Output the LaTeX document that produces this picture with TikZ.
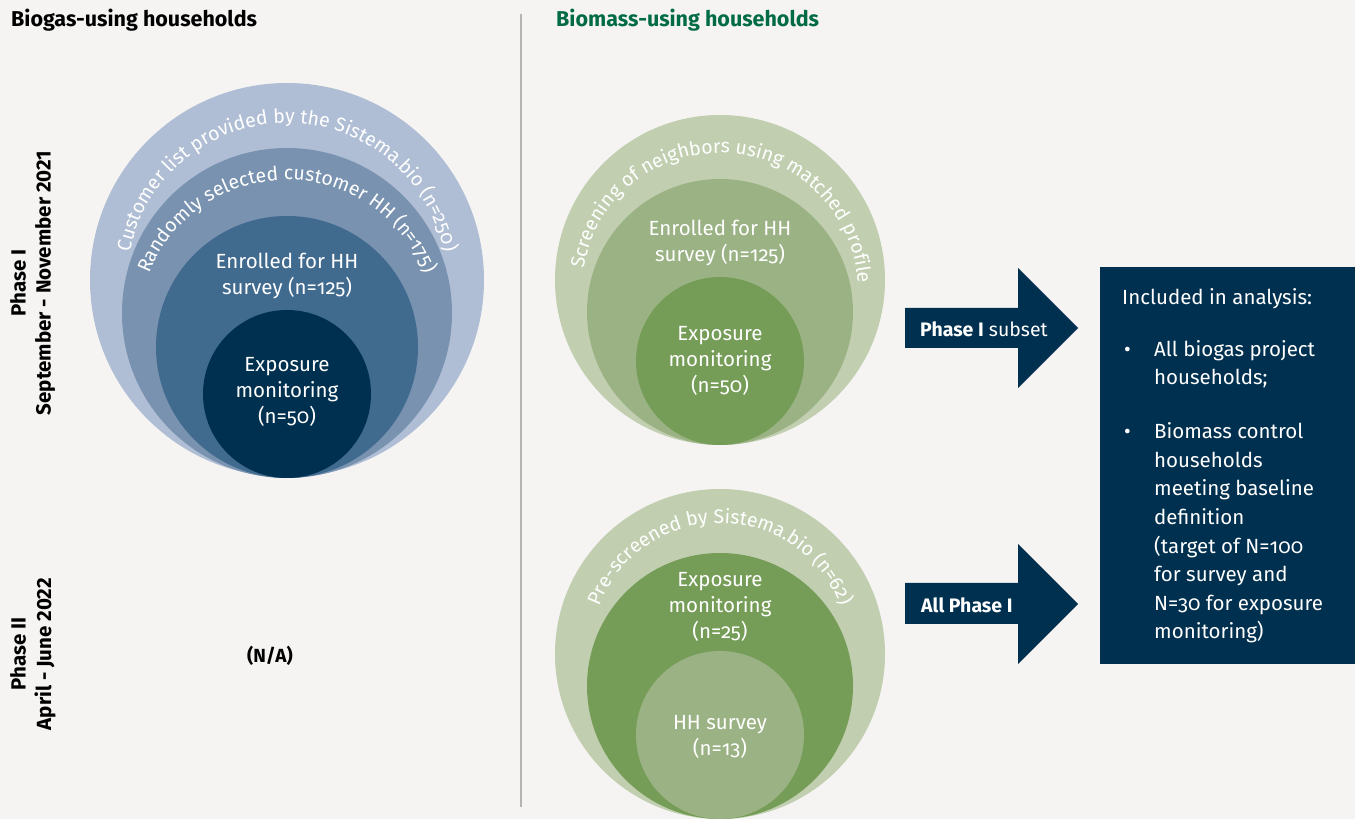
\documentclass[tikz,border=0pt]{standalone}
\usepackage{fontspec}
\setmainfont{Fira Sans}[Numbers=OldStyle]
\usetikzlibrary{decorations.text}

\definecolor{bgcol}{HTML}{F5F4F2}
\definecolor{navy}{HTML}{00304F}
\definecolor{bluea}{HTML}{AFBED4}
\definecolor{blueb}{HTML}{7892B0}
\definecolor{bluec}{HTML}{416A8F}
\definecolor{greena}{HTML}{C1CFB0}
\definecolor{greenb}{HTML}{9BB384}
\definecolor{greenc}{HTML}{769D58}
\definecolor{headgreen}{HTML}{006B45}
\definecolor{sepgray}{HTML}{B4B4B4}

\newcommand\bodyfont{\fontsize{20.5}{26}\selectfont}
\newcommand\boxfont{\fontsize{20.5}{28.6}\selectfont}
\newcommand\ringfont{\fontsize{19.5}{19.5}\selectfont\color{white}}
\newcommand\headfont{\fontsize{21.5}{24}\selectfont\bfseries}

\tikzset{
  incircle/.style={text=white, align=center, font=\bodyfont, inner sep=0pt},
  ringtext/.style={decorate, decoration={text along path, text align=center, text color=white}},
  sidelabel/.style={rotate=90, font=\fontsize{20.5}{24}\selectfont\bfseries\addfontfeature{Numbers=Lining}},
  arrowlabel/.style={text=white, font=\fontsize{19.5}{24}\selectfont, anchor=west, inner sep=0pt},
  boxtext/.style={text=white, font=\boxfont, anchor=base west, align=left, inner sep=0pt},
}

\begin{document}
\begin{tikzpicture}[x=1pt,y=1pt]
\def\bgouter{(287,539) circle (197)}
\def\bgrandom{(287,506) circle (165)}
\def\bgenrol{(287,472) circle (131)}
\def\bgexpo{(287,425) circle (84)}
\def\bmscreen{(720,539) circle (165)}
\def\bmenrol{(720,507) circle (133)}
\def\bmexpo{(720,458) circle (84)}
\def\bmpre{(720,165) circle (165)}
\def\bmexpotwo{(720,133) circle (133)}
\def\bmsurvey{(720,84) circle (84)}
\useasboundingbox (0,0) rectangle (1355,819);
\fill[bgcol] (0,0) rectangle (1355,819);

% headers and separator
\node[anchor=base west, font=\headfont, inner sep=0pt] (bghead) at (11,792) {Biogas-using households};
\node[anchor=base west, font=\headfont, text=headgreen, inner sep=0pt] (bmhead) at (556,792) {Biomass-using households};
\draw[sepgray, line width=1.5pt] (521,805) -- (521,12);

% phase labels
\node[sidelabel] (phaseone) at (18,536) {Phase I};
\node[sidelabel] (phaseonedate) at (45,536) {September - November 2021};
\node[sidelabel] (phasetwo) at (18,165) {Phase II};
\node[sidelabel] (phasetwodate) at (45,165) {April - June 2022};

% biogas households
\fill[bluea] \bgouter;
\fill[blueb] \bgrandom;
\fill[bluec] \bgenrol;
\fill[navy] \bgexpo;
\path[ringtext, decoration={text={|\ringfont|Customer list provided by the Sistema.bio (n=250)}}]
  (287,536) ++(170:160) arc (170:10:160);
\path[ringtext, decoration={text={|\ringfont|Randomly selected customer HH (n=175)}}]
  (287,491) ++(163:148) arc (163:17:148);
\node[incircle] (bgenroltext) at (287,543) {Enrolled for HH\\survey (n=125)};
\node[incircle] (bgexpotext) at (287,427) {Exposure\\monitoring\\(n=50)};
\node[font=\fontsize{19}{24}\selectfont\bfseries] (na) at (270,163) {(N/A)};

% biomass households, phase I
\fill[greena] \bmscreen;
\fill[greenb] \bmenrol;
\fill[greenc] \bmexpo;
\path[ringtext, decoration={text={|\ringfont|Screening of neighbors using matched profile}}]
  (720,528) ++(172:138) arc (172:2:138);
\node[incircle] (bmenroltext) at (720,576) {Enrolled for HH\\survey (n=125)};
\node[incircle] (bmexpotext) at (720,458) {Exposure\\monitoring\\(n=50)};

% biomass households, phase II
\fill[greena] \bmpre;
\fill[greenc] \bmexpotwo;
\fill[greenb] \bmsurvey;
\path[ringtext, decoration={text={|\ringfont|Pre-screened by Sistema.bio (n=62)}}]
  (720,167) ++(163:129) arc (163:17:129);
\node[incircle] (bmexpotwotext) at (720,212) {Exposure\\monitoring\\(n=25)};
\node[incircle] (bmsurveytext) at (720,82) {HH survey\\(n=13)};

% arrows
\fill[navy] (905,511) -- (1018,511) -- (1018,551) -- (1078,491) -- (1018,431) -- (1018,471) -- (905,471) -- cycle;
\fill[navy] (905,236) -- (1018,236) -- (1018,275) -- (1078,215) -- (1018,155) -- (1018,195) -- (905,195) -- cycle;
\node[arrowlabel] (subset) at (920,490) {\textbf{Phase I} subset};
\node[arrowlabel] (allphase) at (921,214) {\textbf{All Phase I}};

% included box (base of a multi-line node = its last line)
\node[fill=navy, anchor=north west, minimum width=255pt, minimum height=397pt, inner sep=0pt] (incl) at (1100,552) {};
\node[boxtext] (incltitle) at (1122,514) {Included in analysis:};
\node[boxtext] (bulone) at (1124,462) {\textbullet};
\node[boxtext] (itemone) at (1154,434) {All biogas project\\households;};
\node[boxtext] (bultwo) at (1124,380) {\textbullet};
\node[boxtext] (itemtwo) at (1154,180) {Biomass control\\households\\meeting baseline\\definition\\(target of N=100\\for survey and\\N=30 for exposure\\monitoring)};
\end{tikzpicture}
\end{document}
